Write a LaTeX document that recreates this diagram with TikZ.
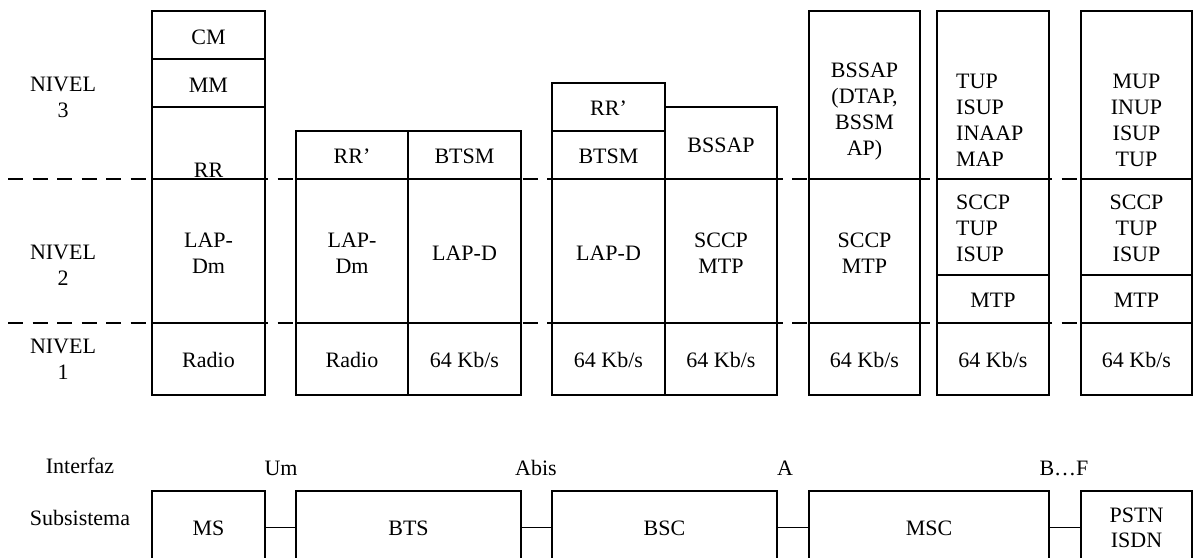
\documentclass[tikz,border=0pt]{standalone}
\usepackage{fontspec}
\setmainfont{Liberation Serif}
\newcommand{\pbox}[5]{\node[box,minimum width={#4pt-#2pt},minimum height={#5pt-#3pt}] (#1) at ({(#2+#4)/2},{(#3+#5)/2}) {};}
\begin{document}
\begin{tikzpicture}[x=1pt,y=-1pt,
  box/.style={draw,line width=1.8pt,inner sep=0pt,outer sep=0pt},
  lbl/.style={font=\fontsize{22}{26}\selectfont,inner sep=0pt,anchor=base,align=center},
  lbll/.style={font=\fontsize{22}{26}\selectfont,inner sep=0pt,anchor=base west,align=left},
  sub/.style={font=\fontsize{22}{25}\selectfont,inner sep=0pt,anchor=base,align=center},
  lev/.style={line width=1.8pt,dash pattern=on 15pt off 9.5pt},
  link/.style={line width=1.8pt}]
\clip (0,0) rectangle (1198,557);
\fill[white] (0,0) rectangle (1198,557);
% level separators
\coordinate (d1s) at (8,179); \coordinate (d1e) at (1192,179);
\coordinate (d2s) at (8,323); \coordinate (d2e) at (1192,323);
\draw[lev] (d1s) -- (d1e);
\draw[lev] (d2s) -- (d2e);
% level labels (anchor = baseline of last line)
\node[lbl] (n3) at (63,117) {NIVEL\\3};
\node[lbl] (n2) at (63,285) {NIVEL\\2};
\node[lbl] (n1) at (63,379) {NIVEL\\1};
% MS stack
\pbox{cm}{152}{11}{265}{59}
\pbox{mm}{152}{59}{265}{107}
\pbox{rr}{152}{107}{265}{179}
\pbox{lapdm}{152}{179}{265}{323}
\pbox{radio}{152}{323}{265}{395}
\node[lbl] (tcm) at (208.5,44) {CM};
\node[lbl] (tmm) at (208.5,92) {MM};
\node[lbl] (trr) at (208.5,177) {RR};
\node[lbl] (tlapdm) at (208.5,273) {LAP-\\Dm};
\node[lbl] (tradio) at (208.5,367) {Radio};
% BTS stack
\pbox{rrb}{296}{131}{408}{179}
\pbox{btsm}{408}{131}{521}{179}
\pbox{lapdmb}{296}{179}{408}{323}
\pbox{lapd}{408}{179}{521}{323}
\pbox{radiob}{296}{323}{408}{395}
\pbox{kbb}{408}{323}{521}{395}
\node[lbl] (trrb) at (352,163) {RR’};
\node[lbl] (tbtsm) at (464.5,163) {BTSM};
\node[lbl] (tlapdmb) at (352,273) {LAP-\\Dm};
\node[lbl] (tlapd) at (464.5,260) {LAP-D};
\node[lbl] (tradiob) at (352,367) {Radio};
\node[lbl] (tkbb) at (464.5,367) {64 Kb/s};
% BSC stack
\pbox{rrc}{552}{83}{665}{131}
\pbox{btsmc}{552}{131}{665}{179}
\pbox{bssapc}{665}{107}{777}{179}
\pbox{lapdc}{552}{179}{665}{323}
\pbox{sccpc}{665}{179}{777}{323}
\pbox{kbc1}{552}{323}{665}{395}
\pbox{kbc2}{665}{323}{777}{395}
\node[lbl] (trrc) at (608.5,115) {RR’};
\node[lbl] (tbtsmc) at (608.5,163) {BTSM};
\node[lbl] (tbssapc) at (721,152) {BSSAP};
\node[lbl] (tlapdc) at (608.5,260) {LAP-D};
\node[lbl] (tsccpc) at (721,273) {SCCP\\MTP};
\node[lbl] (tkbc1) at (608.5,367) {64 Kb/s};
\node[lbl] (tkbc2) at (721,367) {64 Kb/s};
% MSC stack
\pbox{bssapm}{809}{11}{920}{179}
\pbox{sccpm}{809}{179}{920}{323}
\pbox{kbm}{809}{323}{920}{395}
\node[lbl] (tbssapm) at (864.5,155) {BSSAP\\(DTAP,\\BSSM\\AP)};
\node[lbl] (tsccpm) at (864.5,273) {SCCP\\MTP};
\node[lbl] (tkbm) at (864.5,367) {64 Kb/s};
% fixed network stack 1
\pbox{tupf}{937}{11}{1049}{179}
\pbox{sccpf}{937}{179}{1049}{275}
\pbox{mtpf}{937}{275}{1049}{323}
\pbox{kbf}{937}{323}{1049}{395}
\node[lbll] (ttupf) at (956,166) {TUP\\ISUP\\INAAP\\MAP};
\node[lbll] (tsccpf) at (956,261) {SCCP\\TUP\\ISUP};
\node[lbl] (tmtpf) at (993,307) {MTP};
\node[lbl] (tkbf) at (993,367) {64 Kb/s};
% fixed network stack 2
\pbox{mupg}{1081}{11}{1192}{179}
\pbox{sccpg}{1081}{179}{1192}{275}
\pbox{mtpg}{1081}{275}{1192}{323}
\pbox{kbg}{1081}{323}{1192}{395}
\node[lbl] (tmupg) at (1136.5,166) {MUP\\INUP\\ISUP\\TUP};
\node[lbl] (tsccpg) at (1136.5,261) {SCCP\\TUP\\ISUP};
\node[lbl] (tmtpg) at (1136.5,307) {MTP};
\node[lbl] (tkbg) at (1136.5,367) {64 Kb/s};
% bottom: interfaces and subsystems
\node[sub] (interfaz) at (80,473) {Interfaz};
\node[sub] (subsis) at (80,525) {Subsistema};
\node[sub] (um) at (281,475) {Um};
\node[sub] (abis) at (536,475) {Abis};
\node[sub] (ia) at (785,475) {A};
\node[sub] (ibf) at (1064,475) {B…F};
\pbox{ms}{152}{491}{265}{564}
\pbox{bts}{296}{491}{521}{564}
\pbox{bsc}{552}{491}{777}{564}
\pbox{msc}{809}{491}{1049}{564}
\pbox{pstn}{1081}{491}{1192}{564}
\node[sub] (tms) at (208.5,535) {MS};
\node[sub] (tbts) at (408.5,535) {BTS};
\node[sub] (tbsc) at (664.5,535) {BSC};
\node[sub] (tmsc) at (929,535) {MSC};
\node[sub] (tpstn) at (1136.5,547) {PSTN\\ISDN};
\draw[link] (ms.east) -- (bts.west);
\draw[link] (bts.east) -- (bsc.west);
\draw[link] (bsc.east) -- (msc.west);
\draw[link] (msc.east) -- (pstn.west);
\end{tikzpicture}
\end{document}
